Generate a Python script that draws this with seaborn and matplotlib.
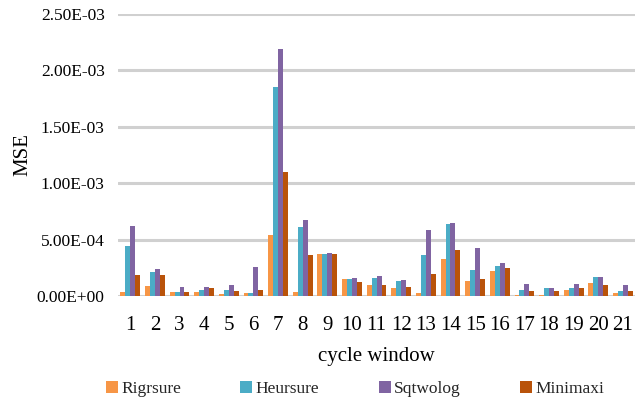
import matplotlib
matplotlib.use("Agg")
import matplotlib.pyplot as plt
import seaborn as sns
import pandas as pd
import numpy as np
from matplotlib.ticker import FuncFormatter

windows = [str(i) for i in range(1, 22)]
rigrsure = [0.38, 0.86, 0.33, 0.36, 0.18, 0.24, 5.44, 0.33, 3.73, 1.51, 0.95,
            0.71, 0.24, 3.28, 1.33, 2.19, 0.09, 0.12, 0.53, 1.15, 0.24]
heursure = [4.47, 2.13, 0.33, 0.53, 0.53, 0.24, 18.55, 6.12, 3.73, 1.51, 1.60,
            1.30, 3.67, 6.39, 2.30, 2.66, 0.53, 0.71, 0.68, 1.66, 0.44]
sqtwolog = [6.24, 2.43, 0.77, 0.80, 0.95, 2.54, 21.86, 6.75, 3.79, 1.63, 1.78,
            1.42, 5.83, 6.50, 4.23, 2.90, 1.09, 0.71, 1.09, 1.72, 0.95]
minimaxi = [1.86, 1.83, 0.38, 0.68, 0.41, 0.53, 10.98, 3.64, 3.76, 1.24, 1.00,
            0.80, 1.95, 4.11, 1.48, 2.51, 0.47, 0.44, 0.68, 1.00, 0.44]
methods = ["Rigrsure", "Heursure", "Sqtwolog", "Minimaxi"]
colors = ["#F79646", "#4BACC6", "#8064A2", "#B9530A"]

series = [rigrsure, heursure, sqtwolog, minimaxi]
rows = []
for m, vals in zip(methods, series):
    for w, v in zip(windows, vals):
        rows.append({"window": w, "method": m, "mse": v * 1e-4})
df = pd.DataFrame(rows)

sns.set_theme(style="white")
plt.rcParams["font.family"] = ["Liberation Serif", "DejaVu Serif"]

fig = plt.figure(figsize=(6.41, 3.98), dpi=100)
ax = fig.add_axes([0.184, 0.256, 0.807, 0.709])

sns.barplot(data=df, x="window", y="mse", hue="method", hue_order=methods,
            palette=colors, width=0.8, ax=ax, saturation=1, edgecolor="none",
            linewidth=0, legend=True)

ax.set_ylim(0, 2.5e-3)
ax.set_yticks(np.arange(0, 2.51e-3, 5e-4))
ax.yaxis.set_major_formatter(FuncFormatter(lambda v, p: f"{v:.2E}"))
ax.set_xlim(-0.5, 20.5)
ax.grid(axis="y", color="#D0D0D0", linewidth=2.2, zorder=0)
ax.set_axisbelow(True)
for s in ax.spines.values():
    s.set_visible(False)
ax.tick_params(axis="y", length=0, pad=9.5, labelsize=12.5, colors="black")
ax.tick_params(axis="x", length=0, pad=14, labelsize=15, colors="black")
ax.set_xlabel("cycle window", fontsize=15, labelpad=9, color="black")
ax.set_ylabel("MSE", fontsize=15, labelpad=3, color="black")

leg = ax.legend(loc="lower center", ncol=4, frameon=False,
                prop={"family": ["Liberation Serif"], "size": 12.5},
                handlelength=0.7, handleheight=0.7, handletextpad=0.2,
                columnspacing=3.4, borderaxespad=0, borderpad=0)
for t in leg.get_texts():
    t.set_fontfamily(["Liberation Serif"])
    t.set_fontsize(12.5)
leg.set_bbox_to_anchor((0.554, 0.002), transform=fig.transFigure)

fig.savefig("out.png", dpi=100)
